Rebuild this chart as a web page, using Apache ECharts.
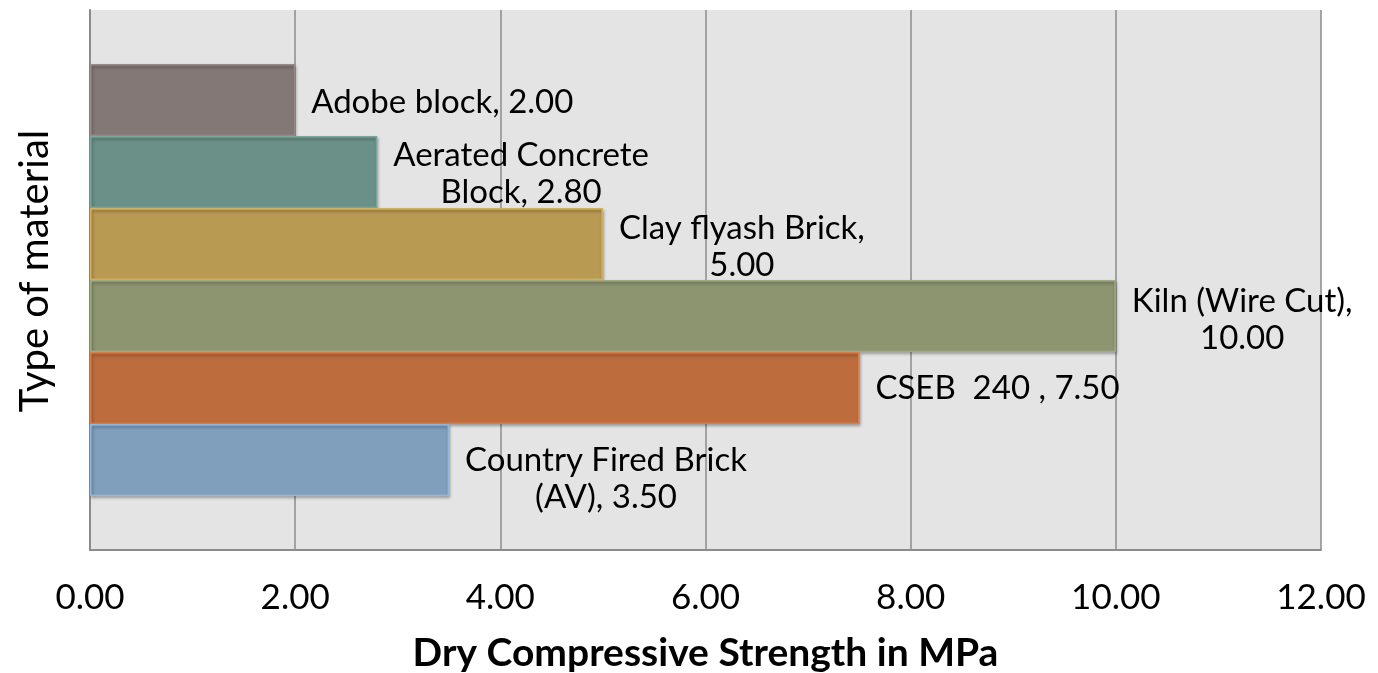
<!DOCTYPE html>
<html><head><meta charset="utf-8">
<script src="https://cdn.jsdelivr.net/npm/echarts@6/dist/echarts.min.js"></script>
<style>html,body{margin:0;padding:0;background:#fff}#c{width:1378px;height:673px}</style>
</head><body><div id="c"></div>
<script>
// Data (series listed top to bottom)
const materials = ['Adobe block', 'Aerated Concrete Block', 'Clay flyash Brick', 'Kiln (Wire Cut)', 'CSEB  240 ', 'Country Fired Brick (AV)'];
const labelTemplates = ['Adobe block, {v}', 'Aerated Concrete\nBlock, {v}', 'Clay flyash Brick,\n{v}', 'Kiln (Wire Cut),\n{v}', 'CSEB  240 , {v}', 'Country Fired Brick\n(AV), {v}'];
const strengths = [2.0, 2.8, 5.0, 10.0, 7.5, 3.5];
const xMin = 0, xMax = 12, xStep = 2;
const xTitle = 'Dry Compressive Strength in MPa';
const yTitle = 'Type of material';

// Styles
const colors = ['#847877', '#6a9087', '#b99a52', '#8c9470', '#bd6d3d', '#7f9fbc'];
const labelShiftY = [2, 2, 3, 4, 0, 19];
const FONT = 'Lato';
const LABEL_SIZE = 33;

const cv = document.createElement('canvas').getContext('2d');
cv.font = LABEL_SIZE + 'px ' + FONT;
function textW(s) { return Math.max.apply(null, s.split('\n').map(l => cv.measureText(l).width)); }

const series = materials.map((m, i) => {
  const txt = labelTemplates[i].replace('{v}', strengths[i].toFixed(2));
  const w = textW(txt);
  return {
    name: m,
    type: 'bar',
    data: [strengths[i]],
    barGap: '0%',
    barCategoryGap: '20%',
    itemStyle: {
      color: colors[i],
      borderColor: echarts.color.lift(colors[i], -0.15),
      borderWidth: 1.5,
      shadowColor: 'rgba(0,0,0,0.35)',
      shadowBlur: 3,
      shadowOffsetX: 1,
      shadowOffsetY: 2
    },
    label: {
      show: true,
      position: 'right',
      distance: 0,
      align: 'center',
      verticalAlign: 'middle',
      offset: [16 + w / 2, labelShiftY[i]],
      formatter: () => txt,
      fontFamily: FONT,
      fontSize: LABEL_SIZE,
      lineHeight: 37,
      color: '#000'
    }
  };
});

const chart = echarts.init(document.getElementById('c'));
chart.setOption({
  animation: false,
  backgroundColor: '#fff',
  grid: { left: 90, right: 57, top: 10, bottom: 123, show: true, backgroundColor: '#e4e4e4', borderWidth: 0, containLabel: false, outerBoundsMode: 'none' },
  xAxis: {
    type: 'value', min: xMin, max: xMax, interval: xStep,
    axisLine: { show: true, lineStyle: { color: '#8c8c8c', width: 2 } },
    axisTick: { show: false },
    splitLine: { show: true, lineStyle: { color: '#8c8c8c', width: 1.5 } },
    axisLabel: { formatter: v => v.toFixed(2), fontFamily: FONT, fontSize: 35, color: '#000', margin: 30 },
    name: xTitle, nameLocation: 'middle', nameGap: 84,
    nameTextStyle: { fontFamily: FONT, fontWeight: 'bold', fontSize: 39, color: '#000' }
  },
  yAxis: {
    type: 'category', data: [''],
    axisLine: { show: true, lineStyle: { color: '#8c8c8c', width: 2 } },
    axisTick: { show: false },
    axisLabel: { show: false },
    splitLine: { show: false },
    name: yTitle, nameLocation: 'middle', nameGap: 35, nameRotate: 90,
    nameTextStyle: { fontFamily: FONT, fontSize: 40, color: '#000', padding: [0, 0, 0, 18] }
  },
  series: series
});
</script></body></html>
